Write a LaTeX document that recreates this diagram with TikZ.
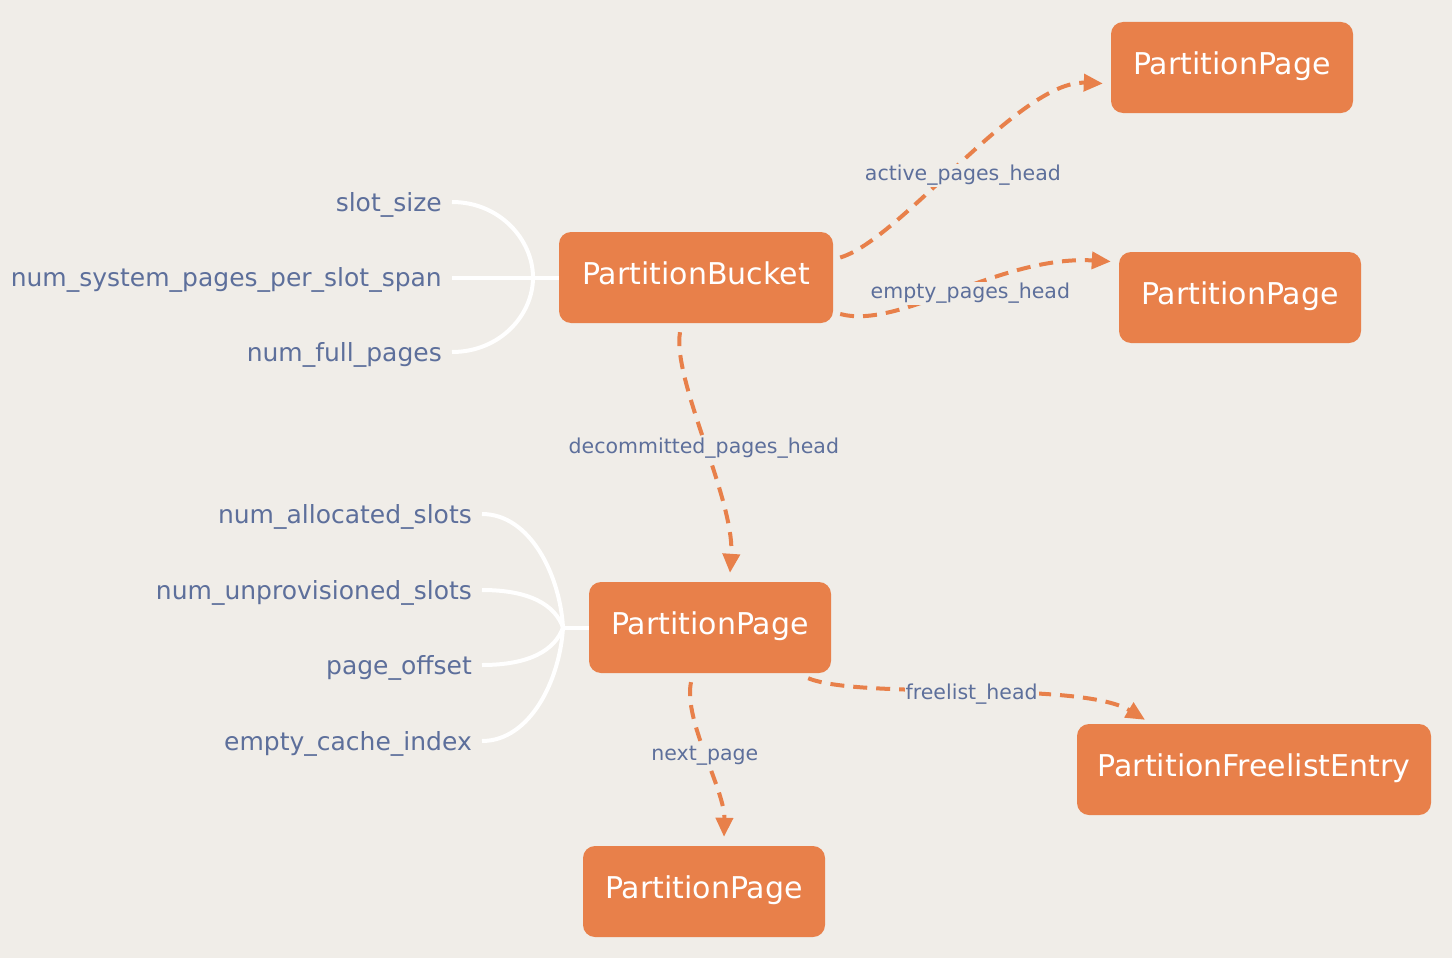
\documentclass[tikz,border=0pt]{standalone}
\usepackage{fontspec}
\setmainfont{DejaVu Sans}
\usetikzlibrary{arrows.meta,calc}
\definecolor{bgc}{HTML}{F0EDE8}
\definecolor{boxc}{HTML}{E8804A}
\definecolor{txtc}{HTML}{5D6F9B}
\begin{document}
\begin{tikzpicture}[x=1pt,y=-1pt,
 box/.style={fill=boxc, rounded corners=12pt, text=white, font=\fontsize{30}{32}\selectfont, minimum height=91pt, inner sep=0pt, text height=20pt, text depth=6pt},
 fld/.style={text=txtc, font=\fontsize{25}{28}\selectfont, anchor=east, inner sep=0pt, text height=20pt, text depth=2pt},
 lnk/.style={draw=boxc, line width=4pt, dash pattern=on 14pt off 9pt, -{Triangle[length=19pt,width=17pt]}},
 elbl/.style={text=txtc, fill=bgc, font=\fontsize{20.5}{24}\selectfont, inner sep=1pt},
 stem/.style={draw=white, line width=4pt}]
\fill[bgc] (0,0) rectangle (1452,958);

% boxes
\node[box, minimum width=274pt] (PB) at (696,277.5) {PartitionBucket};
\node[box, minimum width=242pt] (PP1) at (1232,67.5) {PartitionPage};
\node[box, minimum width=242pt] (PP2) at (1240,297.5) {PartitionPage};
\node[box, minimum width=242pt] (PPM) at (710,627.5) {PartitionPage};
\node[box, minimum width=354pt] (PFE) at (1254,769.5) {PartitionFreelistEntry};
\node[box, minimum width=242pt] (PPB) at (704,891.5) {PartitionPage};

% bucket fields
\node[fld] (f1) at (442,202) {slot\_size};
\node[fld] (f2) at (442,277.5) {num\_system\_pages\_per\_slot\_span};
\node[fld] (f3) at (442,352) {num\_full\_pages};
\coordinate (J1) at (533,277.5);
\draw[stem] ($(f1.east)+(10,0)$) .. controls (500,202) and (533,240) .. (J1);
\draw[stem] ($(f3.east)+(10,0)$) .. controls (500,352) and (533,315) .. (J1);
\draw[stem] ($(f2.east)+(10,0)$) -- (PB.west);

% page fields
\node[fld] (g1) at (472,514) {num\_allocated\_slots};
\node[fld] (g2) at (472,590) {num\_unprovisioned\_slots};
\node[fld] (g3) at (472,665) {page\_offset};
\node[fld] (g4) at (472,741) {empty\_cache\_index};
\coordinate (J2) at (563,627.5);
\draw[stem] ($(g1.east)+(10,0)$) .. controls (530,514) and (560,575) .. (J2);
\draw[stem] ($(g2.east)+(10,0)$) .. controls (530,590) and (555,605) .. (J2);
\draw[stem] ($(g3.east)+(10,0)$) .. controls (530,665) and (555,650) .. (J2);
\draw[stem] ($(g4.east)+(10,0)$) .. controls (530,741) and (560,680) .. (J2);
\draw[stem] (J2) -- (PPM.west);

% links
\draw[lnk] ($(PB.east)+(7,-20)$) .. controls (900,240) and (1020,80) .. ($(PP1.west)+(-8,16)$)
  node[elbl, pos=0.5, yshift=-13pt] {active\_pages\_head};
\draw[lnk] ($(PB.east)+(7,36.5)$) .. controls (900,330) and (1000,255) .. ($(PP2.west)+(-8,-36)$)
  node[elbl, pos=0.5, xshift=14pt, yshift=-2pt] {empty\_pages\_head};
\draw[lnk] ($(PB.south)+(-16,9)$) .. controls (672,380) and (735,500) .. ($(PPM.north)+(20,-9)$)
  node[elbl, pos=0.5, yshift=-5pt] {decommitted\_pages\_head};
\draw[lnk] ($(PPM.south)+(-19,9)$) .. controls (683,720) and (725,790) .. ($(PPB.north)+(20,-9)$)
  node[elbl, pos=0.5] {next\_page};
\draw[lnk] ($(PPM.south east)+(-23,5)$) .. controls (860,700) and (1080,680) .. ($(PFE.north)+(-109,-4)$)
  node[elbl, pos=0.5, yshift=-2pt] {freelist\_head};
\end{tikzpicture}
\end{document}
